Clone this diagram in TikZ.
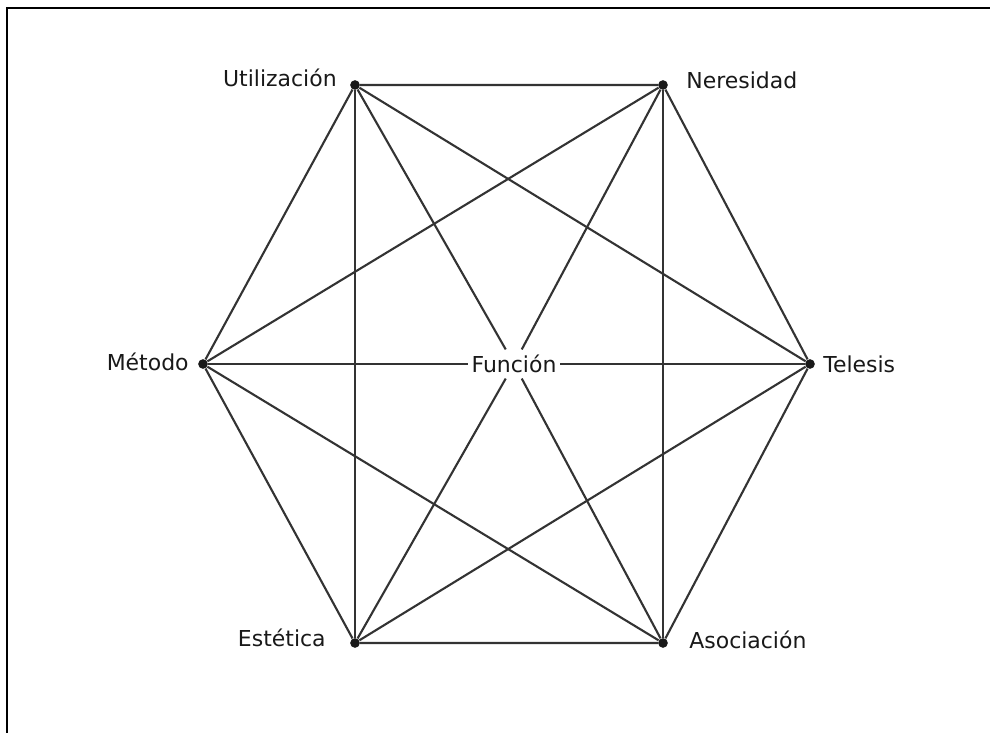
\documentclass[tikz,border=0pt]{standalone}
\usepackage{fontspec}
\setmainfont{DejaVu Sans}
\usetikzlibrary{positioning}

\begin{document}
\begin{tikzpicture}[
    x=0.02cm, y=-0.02cm,
    every node/.style={font=\fontsize{12.5}{15}\selectfont},
    vertex/.style={circle, fill=black!90, inner sep=0pt, minimum size=5.5pt},
    edge/.style={line width=1.2pt, draw=black!80},
    lbl/.style={inner sep=0pt, text=black!90}
]
\useasboundingbox (0,0) rectangle (990,733);

% Frame
\draw[line width=1.7pt] (7,733) -- (7,8) -- (990,8);

% Vertices
\node[vertex] (uti) at (355,85) {};
\node[vertex] (ner) at (663,85) {};
\node[vertex] (met) at (203,364) {};
\node[vertex] (tel) at (810,364) {};
\node[vertex] (est) at (355,643) {};
\node[vertex] (aso) at (663,643) {};
\node[fill=white, inner xsep=2pt, inner ysep=3pt, text=black!90] (fun) at (514,364) {Función};

% Labels
\node[lbl, anchor=east] (utiL) at (337,78) {Utilización};
\node[lbl, anchor=west] (nerL) at (686,80) {Neresidad};
\node[lbl, anchor=east] (metL) at (189,362) {Método};
\node[lbl, anchor=west] (telL) at (823,364) {Telesis};
\node[lbl, anchor=east] (estL) at (326,638) {Estética};
\node[lbl, anchor=west] (asoL) at (689,640) {Asociación};

% Hexagon
\draw[edge] (uti) -- (ner) -- (tel) -- (aso) -- (est) -- (met) -- (uti);
\draw[edge] (uti) -- (est);
\draw[edge] (ner) -- (aso);

% Through the centre
\draw[edge] (met) -- (fun) -- (tel);
\draw[edge] (uti) -- (fun) -- (aso);
\draw[edge] (ner) -- (fun) -- (est);

% Remaining diagonals
\draw[edge] (uti) -- (tel);
\draw[edge] (ner) -- (met);
\draw[edge] (met) -- (aso);
\draw[edge] (tel) -- (est);

\end{tikzpicture}
\end{document}
